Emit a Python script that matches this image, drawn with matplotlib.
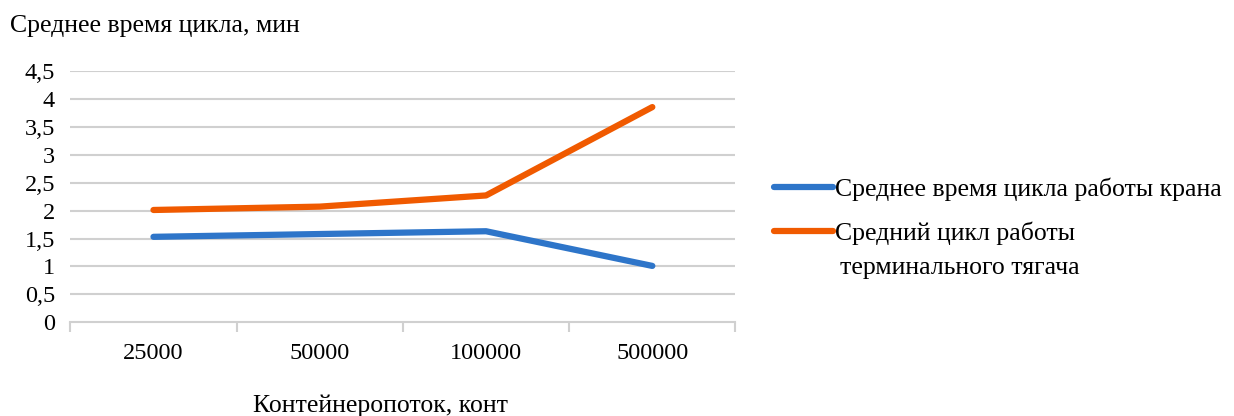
import numpy as np
from matplotlib import pyplot as plt

plt.rcParams['font.family'] = ['Liberation Serif', 'DejaVu Serif']

# data
categories = ['25000', '50000', '100000', '500000']
crane = [1.53, 1.58, 1.63, 1.01]
tractor = [2.01, 2.07, 2.27, 3.85]
y_ticks = [0, 0.5, 1, 1.5, 2, 2.5, 3, 3.5, 4, 4.5]
y_labels = ['0', '0,5', '1', '1,5', '2', '2,5', '3', '3,5', '4', '4,5']

x = np.arange(len(categories))
fs = 18.5

fig = plt.figure(figsize=(12.34, 4.16), dpi=100)
ax = fig.add_axes([0.057, 0.225, 0.539, 0.605])

grid_col = '#d0d0d0'
for yv in y_ticks[1:]:
    ax.axhline(yv, color=grid_col, lw=1.5, zorder=1)

l1, = ax.plot(x, crane, color='#2e75c9', lw=4.5, solid_capstyle='round',
              solid_joinstyle='round', zorder=3,
              label='Среднее время цикла работы крана')
l2, = ax.plot(x, tractor, color='#f05a00', lw=4.5, solid_capstyle='round',
              solid_joinstyle='round', zorder=3,
              label='Средний цикл работы')

ax.set_xlim(-0.5, len(categories) - 0.5)
ax.set_ylim(0, 4.5)
ax.set_yticks(y_ticks)
ax.set_yticklabels(y_labels)
ax.set_xticks(x)
ax.set_xticklabels(categories)
ax.set_xticks(np.arange(-0.5, len(categories)), minor=True)
ax.tick_params(axis='x', which='major', length=0, pad=15, labelsize=17.5)
ax.tick_params(axis='x', which='minor', length=7, width=1.5, color=grid_col)
ax.tick_params(axis='y', length=0, pad=11, labelsize=17.5)

for s in ['top', 'right', 'left']:
    ax.spines[s].set_visible(False)
ax.spines['bottom'].set_color(grid_col)
ax.spines['bottom'].set_linewidth(1.5)

fig.text(0.008, 0.937, 'Среднее время цикла, мин', fontsize=fs, ha='left', va='center')
fig.text(0.308, 0.025, 'Контейнеропоток, конт', fontsize=fs, ha='center', va='center')

leg = fig.legend(handles=[l1, l2], loc='upper left', bbox_to_anchor=(0.617, 0.605),
                 frameon=False, fontsize=fs, handlelength=2.3, handletextpad=0.05,
                 labelspacing=0.8, borderpad=0)

# wrapped continuation of the second legend entry
fig.text(0.681, 0.355, 'терминального тягача', fontsize=fs, ha='left', va='center')

fig.savefig('out.png', dpi=100)
